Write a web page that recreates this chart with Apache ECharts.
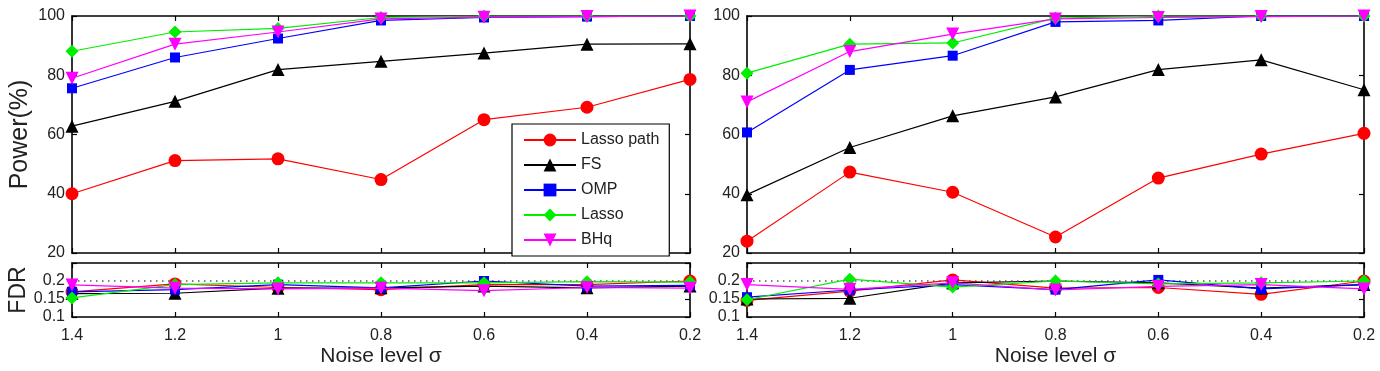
<!DOCTYPE html>
<html>
<head>
<meta charset="utf-8">
<script src="https://cdn.jsdelivr.net/npm/echarts@6/dist/echarts.min.js"></script>
<style>
html,body{margin:0;padding:0;background:#fff;}
#c{width:1380px;height:371px;}
</style>
</head>
<body>
<div id="c"></div>
<script>
// ---------------- data ----------------
const noiseLevels = ['1.4', '1.2', '1', '0.8', '0.6', '0.4', '0.2'];
const methodNames = ['Lasso path', 'FS', 'OMP', 'Lasso', 'BHq'];
const powerTicks = [20, 40, 60, 80, 100];
const fdrTicks = [0.1, 0.15, 0.2];
const fdrTarget = 0.2;

// left panel – power (%)
const powerLeftLassoPath = [40, 51.2, 51.8, 44.8, 65, 69.2, 78.6];
const powerLeftFS        = [62.8, 71.2, 81.9, 84.7, 87.5, 90.5, 90.6];
const powerLeftOMP       = [75.6, 86, 92.4, 98.5, 99.5, 99.8, 100];
const powerLeftLasso     = [88.1, 94.6, 95.8, 99.5, 100, 100, 100];
const powerLeftBHq       = [79, 90.5, 94.6, 99, 99.6, 99.8, 100];
// left panel – FDR
const fdrLeftLassoPath = [0.17, 0.192, 0.182, 0.176, 0.19, 0.19, 0.2];
const fdrLeftFS        = [0.165, 0.166, 0.18, 0.181, 0.186, 0.181, 0.186];
const fdrLeftOMP       = [0.17, 0.176, 0.19, 0.181, 0.2, 0.186, 0.188];
const fdrLeftLasso     = [0.153, 0.19, 0.195, 0.195, 0.195, 0.198, 0.197];
const fdrLeftBHq       = [0.189, 0.18, 0.178, 0.18, 0.173, 0.182, 0.18];

// right panel – power (%)
const powerRightLassoPath = [24, 47.3, 40.5, 25.4, 45.3, 53.4, 60.4];
const powerRightFS        = [39.7, 55.6, 66.3, 72.7, 81.9, 85.2, 75.1];
const powerRightOMP       = [60.7, 81.8, 86.6, 98, 98.5, 100, 100];
const powerRightLasso     = [80.7, 90.5, 90.9, 99.3, 100, 100, 100];
const powerRightBHq       = [71, 88, 93.9, 99, 99.5, 99.8, 100];
// right panel – FDR
const fdrRightLassoPath = [0.146, 0.172, 0.203, 0.18, 0.182, 0.163, 0.2];
const fdrRightFS        = [0.15, 0.152, 0.195, 0.2, 0.195, 0.18, 0.19];
const fdrRightOMP       = [0.155, 0.175, 0.19, 0.176, 0.203, 0.178, 0.19];
const fdrRightLasso     = [0.148, 0.205, 0.183, 0.2, 0.192, 0.195, 0.2];
const fdrRightBHq       = [0.19, 0.177, 0.195, 0.175, 0.185, 0.19, 0.178];

// ---------------- styling ----------------
const FONT = 'Liberation Sans, Arial, sans-serif';
const colors = ['#ff0000', '#000000', '#0000ff', '#00ee00', '#ff00ff'];
const symbols = ['circle', 'triangle', 'rect', 'diamond', 'triangle'];
const symbolSizes = [13, 13, 10, 13, 13];
const symbolRotates = [0, 0, 0, 0, 180];

const grids = [
  {left: 72, top: 16, width: 618, height: 237},
  {left: 72, top: 263, width: 618, height: 54},
  {left: 747, top: 16, width: 617, height: 237},
  {left: 747, top: 263, width: 617, height: 54}
];

const xAxes = [], yAxes = [];
grids.forEach((g, gi) => {
  const isBottom = gi % 2 === 1;
  const base = {
    type: 'category', data: noiseLevels, boundaryGap: false, gridIndex: gi,
    axisLine: {show: true, lineStyle: {color: '#000', width: 1.6}},
    axisTick: {show: true, inside: true, length: 5, lineStyle: {color: '#000', width: 1.2}},
    splitLine: {show: false}
  };
  xAxes.push(Object.assign({}, base, {
    position: 'bottom',
    axisLabel: {show: isBottom, color: '#222', fontSize: 16, fontFamily: FONT, margin: 11},
    name: isBottom ? 'Noise level σ' : '',
    nameLocation: 'middle', nameGap: 29,
    nameTextStyle: {color: '#222', fontSize: 21, fontFamily: FONT}
  }));
  xAxes.push(Object.assign({}, base, {position: 'top', axisLabel: {show: false}}));

  const yBase = isBottom
    ? {min: 0.1, max: 0.25, interval: 0.05}
    : {min: powerTicks[0], max: powerTicks[powerTicks.length - 1], interval: powerTicks[1] - powerTicks[0]};
  const yCommon = Object.assign({
    type: 'value', gridIndex: gi,
    axisLine: {show: true, lineStyle: {color: '#000', width: 1.6}},
    axisTick: {show: true, inside: true, length: 5, lineStyle: {color: '#000', width: 1.2}},
    splitLine: {show: false}
  }, yBase);
  let name = '';
  if (gi === 0) name = 'Power(%)';
  if (gi === 1) name = 'FDR';
  yAxes.push(Object.assign({}, yCommon, {
    position: 'left',
    axisLabel: {
      show: true, color: '#222', fontSize: 16, fontFamily: FONT, margin: 7,
      formatter: v => {
        if (isBottom) {
          const r = Math.round(v * 100) / 100;
          return fdrTicks.some(t => Math.abs(t - r) < 1e-9) ? String(r) : '';
        }
        return String(v);
      }
    },
    name: name, nameLocation: 'middle', nameRotate: 90,
    nameGap: 39,
    nameTextStyle: {color: '#222', fontSize: isBottom ? 23 : 25, fontFamily: FONT}
  }));
  yAxes.push(Object.assign({}, yCommon, {position: 'right', axisLabel: {show: false}}));
});

const panelData = [
  [powerLeftLassoPath, powerLeftFS, powerLeftOMP, powerLeftLasso, powerLeftBHq],
  [fdrLeftLassoPath, fdrLeftFS, fdrLeftOMP, fdrLeftLasso, fdrLeftBHq],
  [powerRightLassoPath, powerRightFS, powerRightOMP, powerRightLasso, powerRightBHq],
  [fdrRightLassoPath, fdrRightFS, fdrRightOMP, fdrRightLasso, fdrRightBHq]
];

const series = [];
panelData.forEach((arrs, gi) => {
  arrs.forEach((arr, mi) => {
    const s = {
      type: 'line', name: methodNames[mi], data: arr,
      xAxisIndex: gi * 2, yAxisIndex: gi * 2,
      symbol: symbols[mi], symbolSize: symbolSizes[mi], symbolRotate: symbolRotates[mi],
      showAllSymbol: true,
      lineStyle: {color: colors[mi], width: 1.2},
      itemStyle: {color: colors[mi], borderWidth: 0},
      z: 3 + mi, silent: true
    };
    if (gi % 2 === 1 && mi === 0) {
      s.markLine = {
        silent: true, symbol: 'none', label: {show: false},
        lineStyle: {color: '#555', type: [1.5, 4.5], width: 1.6},
        data: [{yAxis: fdrTarget}]
      };
    }
    series.push(s);
  });
});

const chart = echarts.init(document.getElementById('c'), null, {renderer: 'canvas'});
chart.setOption({
  animation: false,
  backgroundColor: '#fff',
  grid: grids,
  xAxis: xAxes,
  yAxis: yAxes,
  legend: {
    show: true, orient: 'vertical', left: 512, top: 124,
    data: methodNames,
    itemWidth: 52, itemHeight: 16, itemGap: 9,
    padding: [8, 10, 8, 11],
    borderColor: '#000', borderWidth: 1.2, backgroundColor: '#fff',
    textStyle: {color: '#222', fontSize: 16, fontFamily: FONT},
    selectedMode: false
  },
  series: series
});
</script>
</body>
</html>
